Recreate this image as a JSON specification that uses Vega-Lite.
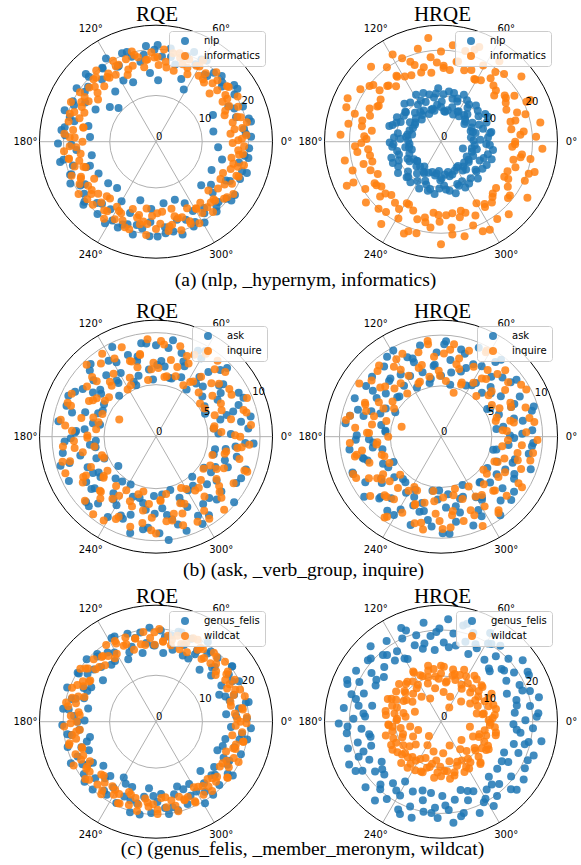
{
"$schema":"https://vega.github.io/schema/vega-lite/v6.json",
"padding":0,
"spacing":0,
"config":{"view":{"stroke":null},"font":"DejaVu Sans",
 "title":{"font":"Liberation Serif","fontSize":21,"fontWeight":"normal","color":"black","frame":"group","anchor":"middle"},
 "legend":{"labelFont":"DejaVu Sans","labelFontSize":10,"labelColor":"black","padding":5,"symbolOffset":6,"labelOffset":14,"rowPadding":5,"strokeColor":"#cccccc","fillColor":"rgba(255,255,255,0.8)","cornerRadius":3,"symbolSize":64,"symbolStrokeWidth":0,"symbolType":"circle"}},
"datasets":{
"one":[{"k":1}],
"ang":[{"deg":0,"lab":"0°"},{"deg":60,"lab":"60°"},{"deg":120,"lab":"120°"},{"deg":180,"lab":"180°"},{"deg":240,"lab":"240°"},{"deg":300,"lab":"300°"}],
"g20":[{"r":0,"lab":"0"},{"r":10,"lab":"10"},{"r":20,"lab":"20"}],
"g10":[{"r":0,"lab":"0"},{"r":5,"lab":"5"},{"r":10,"lab":"10"}],
"a1n":[{"t":3,"r":20.6},{"t":8,"r":19.2},{"t":12,"r":21.0},{"t":17,"r":18.1},{"t":22,"r":20.3},{"t":26,"r":17.4},{"t":31,"r":19.8},{"t":36,"r":20.9},{"t":40,"r":18.6},{"t":45,"r":20.1},{"t":50,"r":19.5},{"t":54,"r":17.9},{"t":58,"r":20.7},{"t":63,"r":18.8},{"t":67,"r":21.1},{"t":72,"r":19.3},{"t":76,"r":17.2},{"t":81,"r":20.4},{"t":86,"r":18.5},{"t":91,"r":19.9},{"t":96,"r":20.8},{"t":101,"r":17.6},{"t":106,"r":19.1},{"t":111,"r":20.5},{"t":116,"r":18.3},{"t":121,"r":21.0},{"t":126,"r":19.6},{"t":131,"r":17.8},{"t":136,"r":20.2},{"t":141,"r":18.9},{"t":146,"r":20.7},{"t":151,"r":17.5},{"t":156,"r":19.4},{"t":161,"r":20.9},{"t":166,"r":18.2},{"t":171,"r":20.0},{"t":176,"r":19.7},{"t":181,"r":21.2},{"t":186,"r":17.3},{"t":191,"r":20.4},{"t":196,"r":18.7},{"t":201,"r":19.9},{"t":206,"r":20.6},{"t":211,"r":17.9},{"t":216,"r":19.2},{"t":221,"r":20.8},{"t":226,"r":18.4},{"t":231,"r":20.1},{"t":236,"r":17.6},{"t":241,"r":19.5},{"t":246,"r":20.3},{"t":251,"r":18.9},{"t":256,"r":20.7},{"t":261,"r":19.0},{"t":266,"r":17.4},{"t":271,"r":20.5},{"t":276,"r":18.6},{"t":281,"r":19.8},{"t":286,"r":20.9},{"t":291,"r":18.1},{"t":296,"r":19.3},{"t":301,"r":20.4},{"t":306,"r":17.7},{"t":311,"r":20.0},{"t":316,"r":18.8},{"t":321,"r":19.6},{"t":326,"r":20.6},{"t":331,"r":17.3},{"t":336,"r":19.9},{"t":341,"r":20.8},{"t":346,"r":18.5},{"t":351,"r":19.4},{"t":356,"r":20.2},{"t":298,"r":17.0},{"t":318,"r":16.5},{"t":62,"r":12.8},{"t":68,"r":14.6},{"t":88,"r":13.3},{"t":95,"r":14.9},{"t":111,"r":13.8},{"t":118,"r":15.0},{"t":129,"r":14.0},{"t":138,"r":10.9},{"t":143,"r":12.5},{"t":152,"r":14.8},{"t":167,"r":15.0},{"t":176,"r":14.3},{"t":192,"r":14.2},{"t":200,"r":15.2},{"t":209,"r":14.2},{"t":221,"r":13.7},{"t":230,"r":13.1},{"t":240,"r":14.9},{"t":255,"r":13.1},{"t":266,"r":14.6},{"t":277,"r":13.4},{"t":288,"r":13.2},{"t":295,"r":14.7},{"t":316,"r":13.6},{"t":322,"r":15.1},{"t":333,"r":13.5},{"t":345,"r":14.8},{"t":355,"r":13.5},{"t":10,"r":12.6},{"t":25,"r":13.6},{"t":5,"r":19.5},{"t":14,"r":20.7},{"t":23,"r":18.4},{"t":33,"r":21.0},{"t":42,"r":19.2},{"t":52,"r":18.0},{"t":61,"r":20.3},{"t":70,"r":19.7},{"t":80,"r":18.6},{"t":89,"r":20.9},{"t":98,"r":19.0},{"t":108,"r":20.4},{"t":117,"r":18.2},{"t":126,"r":19.8},{"t":136,"r":21.1},{"t":145,"r":18.8},{"t":154,"r":20.0},{"t":164,"r":19.4},{"t":173,"r":20.6},{"t":182,"r":18.3},{"t":192,"r":21.2},{"t":201,"r":19.6},{"t":210,"r":18.9},{"t":220,"r":20.2},{"t":229,"r":17.8},{"t":238,"r":20.8},{"t":248,"r":19.3},{"t":257,"r":18.5},{"t":266,"r":20.5},{"t":276,"r":19.9},{"t":285,"r":17.5},{"t":294,"r":20.1},{"t":304,"r":18.7},{"t":313,"r":19.2},{"t":322,"r":20.7},{"t":332,"r":18.1},{"t":341,"r":19.7},{"t":350,"r":20.3},{"t":200,"r":16.0},{"t":250,"r":16.4}],
"a1i":[{"t":1,"r":17.8},{"t":4,"r":19.6},{"t":6,"r":16.2},{"t":9,"r":18.9},{"t":12,"r":20.1},{"t":14,"r":17.1},{"t":17,"r":18.4},{"t":21,"r":15.9},{"t":23,"r":19.3},{"t":26,"r":17.6},{"t":29,"r":20.2},{"t":31,"r":16.8},{"t":34,"r":18.1},{"t":37,"r":19.7},{"t":40,"r":17.3},{"t":42,"r":15.6},{"t":45,"r":18.8},{"t":49,"r":19.9},{"t":51,"r":16.5},{"t":54,"r":18.3},{"t":57,"r":17.0},{"t":60,"r":20.3},{"t":62,"r":18.6},{"t":65,"r":16.1},{"t":68,"r":19.2},{"t":71,"r":17.7},{"t":74,"r":18.9},{"t":76,"r":15.8},{"t":79,"r":19.5},{"t":83,"r":17.4},{"t":85,"r":20.0},{"t":88,"r":16.6},{"t":91,"r":18.2},{"t":93,"r":19.4},{"t":96,"r":17.9},{"t":99,"r":16.3},{"t":102,"r":18.7},{"t":105,"r":20.2},{"t":107,"r":17.2},{"t":110,"r":19.0},{"t":113,"r":15.7},{"t":116,"r":18.5},{"t":118,"r":19.8},{"t":121,"r":16.9},{"t":125,"r":18.0},{"t":127,"r":17.5},{"t":130,"r":20.1},{"t":133,"r":16.4},{"t":135,"r":19.1},{"t":138,"r":17.8},{"t":141,"r":18.6},{"t":144,"r":15.5},{"t":147,"r":19.6},{"t":149,"r":17.0},{"t":152,"r":18.3},{"t":155,"r":20.3},{"t":158,"r":16.7},{"t":160,"r":18.8},{"t":163,"r":17.3},{"t":167,"r":19.4},{"t":169,"r":16.0},{"t":172,"r":18.1},{"t":175,"r":19.9},{"t":177,"r":17.6},{"t":180,"r":15.9},{"t":183,"r":18.7},{"t":186,"r":20.0},{"t":189,"r":16.5},{"t":191,"r":19.2},{"t":194,"r":17.1},{"t":197,"r":18.4},{"t":200,"r":16.2},{"t":202,"r":19.7},{"t":205,"r":17.9},{"t":209,"r":18.9},{"t":211,"r":15.6},{"t":214,"r":20.2},{"t":217,"r":17.4},{"t":219,"r":18.0},{"t":222,"r":16.8},{"t":225,"r":19.3},{"t":228,"r":17.7},{"t":231,"r":15.8},{"t":233,"r":18.6},{"t":236,"r":20.1},{"t":239,"r":16.4},{"t":242,"r":19.0},{"t":244,"r":17.2},{"t":247,"r":18.5},{"t":251,"r":15.4},{"t":253,"r":19.8},{"t":256,"r":16.9},{"t":259,"r":18.2},{"t":261,"r":17.5},{"t":264,"r":20.3},{"t":267,"r":16.1},{"t":270,"r":18.9},{"t":273,"r":17.8},{"t":275,"r":15.2},{"t":278,"r":19.5},{"t":281,"r":18.3},{"t":284,"r":16.6},{"t":286,"r":19.9},{"t":289,"r":17.3},{"t":293,"r":18.7},{"t":295,"r":15.9},{"t":298,"r":20.0},{"t":301,"r":17.0},{"t":303,"r":18.4},{"t":306,"r":16.3},{"t":309,"r":19.6},{"t":312,"r":17.7},{"t":315,"r":18.1},{"t":317,"r":15.5},{"t":320,"r":19.2},{"t":323,"r":16.8},{"t":326,"r":20.2},{"t":328,"r":17.5},{"t":331,"r":18.8},{"t":335,"r":16.0},{"t":337,"r":19.4},{"t":340,"r":17.2},{"t":343,"r":18.5},{"t":345,"r":19.7},{"t":348,"r":16.7},{"t":351,"r":18.2},{"t":354,"r":17.9},{"t":357,"r":19.1},{"t":262,"r":14.6},{"t":283,"r":14.9},{"t":2,"r":18.6},{"t":9,"r":17.2},{"t":16,"r":19.1},{"t":24,"r":16.4},{"t":31,"r":18.0},{"t":38,"r":19.5},{"t":46,"r":17.6},{"t":53,"r":16.9},{"t":60,"r":18.8},{"t":67,"r":17.4},{"t":75,"r":19.8},{"t":82,"r":16.2},{"t":89,"r":18.3},{"t":97,"r":17.8},{"t":104,"r":19.3},{"t":111,"r":16.7},{"t":118,"r":18.5},{"t":126,"r":17.1},{"t":133,"r":19.0},{"t":140,"r":16.5},{"t":148,"r":18.2},{"t":155,"r":17.7},{"t":162,"r":19.6},{"t":169,"r":16.0},{"t":177,"r":18.7},{"t":184,"r":17.3},{"t":191,"r":19.2},{"t":199,"r":16.6},{"t":206,"r":18.1},{"t":213,"r":17.5},{"t":220,"r":19.4},{"t":228,"r":15.9},{"t":235,"r":18.4},{"t":242,"r":17.0},{"t":250,"r":19.7},{"t":257,"r":16.3},{"t":264,"r":17.9},{"t":271,"r":15.5},{"t":279,"r":18.6},{"t":286,"r":17.2},{"t":293,"r":19.3},{"t":301,"r":16.8},{"t":308,"r":18.0},{"t":315,"r":17.6},{"t":322,"r":19.5},{"t":330,"r":16.1},{"t":337,"r":18.9},{"t":344,"r":17.4},{"t":352,"r":19.0},{"t":359,"r":16.6}],
"a2n":[{"t":2,"r":7.1},{"t":8,"r":6.6},{"t":14,"r":7.8},{"t":20,"r":6.9},{"t":25,"r":7.4},{"t":31,"r":8.0},{"t":37,"r":6.4},{"t":43,"r":7.2},{"t":49,"r":7.7},{"t":55,"r":6.8},{"t":61,"r":7.5},{"t":66,"r":6.5},{"t":72,"r":7.9},{"t":78,"r":7.0},{"t":84,"r":6.7},{"t":90,"r":7.6},{"t":96,"r":8.1},{"t":102,"r":6.9},{"t":107,"r":7.3},{"t":113,"r":6.6},{"t":119,"r":7.8},{"t":125,"r":7.1},{"t":131,"r":6.4},{"t":137,"r":7.5},{"t":143,"r":7.0},{"t":148,"r":8.0},{"t":154,"r":6.8},{"t":160,"r":7.3},{"t":166,"r":6.5},{"t":172,"r":7.7},{"t":178,"r":7.2},{"t":184,"r":6.9},{"t":189,"r":7.9},{"t":195,"r":6.6},{"t":201,"r":7.4},{"t":207,"r":8.2},{"t":213,"r":7.0},{"t":219,"r":6.7},{"t":225,"r":7.6},{"t":230,"r":7.1},{"t":236,"r":6.5},{"t":242,"r":7.8},{"t":248,"r":7.3},{"t":254,"r":6.9},{"t":260,"r":7.5},{"t":266,"r":6.4},{"t":271,"r":8.0},{"t":277,"r":7.2},{"t":283,"r":6.8},{"t":289,"r":7.6},{"t":295,"r":7.0},{"t":301,"r":6.6},{"t":307,"r":7.9},{"t":312,"r":7.3},{"t":318,"r":6.8},{"t":324,"r":7.5},{"t":330,"r":6.5},{"t":336,"r":7.7},{"t":342,"r":7.1},{"t":348,"r":6.9},{"t":354,"r":7.4},{"t":5,"r":10.3},{"t":11,"r":11.2},{"t":17,"r":9.6},{"t":23,"r":10.8},{"t":28,"r":11.6},{"t":34,"r":9.9},{"t":40,"r":10.5},{"t":46,"r":11.0},{"t":52,"r":9.4},{"t":58,"r":10.7},{"t":64,"r":11.4},{"t":69,"r":10.1},{"t":75,"r":9.7},{"t":81,"r":11.1},{"t":87,"r":10.4},{"t":93,"r":11.7},{"t":99,"r":9.8},{"t":104,"r":10.6},{"t":110,"r":11.3},{"t":116,"r":10.0},{"t":122,"r":9.5},{"t":128,"r":10.9},{"t":134,"r":11.5},{"t":140,"r":10.2},{"t":145,"r":9.9},{"t":151,"r":11.0},{"t":157,"r":10.6},{"t":163,"r":11.8},{"t":169,"r":9.6},{"t":175,"r":10.3},{"t":181,"r":11.2},{"t":186,"r":10.7},{"t":192,"r":9.8},{"t":198,"r":11.4},{"t":204,"r":10.1},{"t":210,"r":10.8},{"t":216,"r":11.6},{"t":222,"r":9.7},{"t":227,"r":10.5},{"t":233,"r":11.1},{"t":239,"r":10.0},{"t":245,"r":11.3},{"t":251,"r":9.9},{"t":257,"r":10.6},{"t":263,"r":11.5},{"t":268,"r":10.2},{"t":274,"r":9.6},{"t":280,"r":10.9},{"t":286,"r":11.7},{"t":292,"r":10.4},{"t":298,"r":9.8},{"t":304,"r":11.0},{"t":309,"r":10.3},{"t":315,"r":11.4},{"t":321,"r":9.7},{"t":327,"r":10.8},{"t":333,"r":11.2},{"t":339,"r":10.0},{"t":345,"r":10.6},{"t":351,"r":11.5},{"t":357,"r":9.9},{"t":343,"r":5.0},{"t":3,"r":8.6},{"t":10,"r":10.9},{"t":17,"r":7.3},{"t":24,"r":9.1},{"t":32,"r":11.4},{"t":39,"r":6.9},{"t":46,"r":8.3},{"t":53,"r":10.2},{"t":60,"r":7.7},{"t":68,"r":9.5},{"t":75,"r":11.0},{"t":82,"r":6.6},{"t":89,"r":8.8},{"t":96,"r":10.6},{"t":104,"r":7.4},{"t":111,"r":9.3},{"t":118,"r":11.6},{"t":125,"r":7.9},{"t":132,"r":8.5},{"t":140,"r":10.0},{"t":147,"r":6.8},{"t":154,"r":9.8},{"t":161,"r":11.2},{"t":168,"r":7.5},{"t":176,"r":8.9},{"t":183,"r":10.4},{"t":190,"r":7.1},{"t":197,"r":9.6},{"t":204,"r":11.5},{"t":212,"r":8.1},{"t":219,"r":6.7},{"t":226,"r":10.8},{"t":233,"r":8.7},{"t":240,"r":7.6},{"t":248,"r":9.2},{"t":255,"r":11.1},{"t":262,"r":7.0},{"t":269,"r":8.4},{"t":276,"r":10.5},{"t":284,"r":7.8},{"t":291,"r":9.9},{"t":298,"r":11.3},{"t":305,"r":6.5},{"t":312,"r":8.2},{"t":320,"r":10.1},{"t":327,"r":7.2},{"t":334,"r":9.4},{"t":341,"r":11.7},{"t":348,"r":8.0},{"t":356,"r":10.7}],
"a2i":[{"t":0,"r":16.2},{"t":5,"r":17.4},{"t":10,"r":15.6},{"t":16,"r":16.9},{"t":21,"r":17.8},{"t":26,"r":15.9},{"t":31,"r":16.5},{"t":36,"r":17.2},{"t":41,"r":15.4},{"t":47,"r":16.8},{"t":52,"r":17.6},{"t":57,"r":16.0},{"t":62,"r":15.5},{"t":67,"r":17.0},{"t":72,"r":16.4},{"t":78,"r":17.9},{"t":83,"r":15.8},{"t":88,"r":16.6},{"t":93,"r":17.3},{"t":98,"r":15.2},{"t":103,"r":16.7},{"t":109,"r":17.7},{"t":114,"r":15.9},{"t":119,"r":16.3},{"t":124,"r":17.1},{"t":129,"r":15.6},{"t":134,"r":16.9},{"t":140,"r":17.5},{"t":145,"r":16.1},{"t":150,"r":15.7},{"t":155,"r":17.2},{"t":160,"r":16.5},{"t":165,"r":17.8},{"t":171,"r":15.3},{"t":176,"r":16.8},{"t":181,"r":17.4},{"t":186,"r":16.0},{"t":191,"r":15.8},{"t":196,"r":17.6},{"t":202,"r":16.6},{"t":207,"r":15.5},{"t":212,"r":17.1},{"t":217,"r":16.3},{"t":222,"r":17.9},{"t":227,"r":15.9},{"t":233,"r":16.7},{"t":238,"r":17.3},{"t":243,"r":15.4},{"t":248,"r":16.2},{"t":253,"r":17.7},{"t":258,"r":16.9},{"t":264,"r":15.6},{"t":269,"r":17.5},{"t":274,"r":16.1},{"t":279,"r":15.8},{"t":284,"r":17.0},{"t":289,"r":16.4},{"t":295,"r":17.8},{"t":300,"r":15.5},{"t":305,"r":16.6},{"t":310,"r":17.3},{"t":315,"r":16.0},{"t":320,"r":15.7},{"t":326,"r":17.6},{"t":331,"r":16.8},{"t":336,"r":15.9},{"t":341,"r":17.2},{"t":346,"r":16.3},{"t":351,"r":17.9},{"t":356,"r":15.6},{"t":3,"r":20.8},{"t":11,"r":22.1},{"t":18,"r":19.4},{"t":25,"r":21.5},{"t":32,"r":18.9},{"t":39,"r":22.6},{"t":47,"r":20.2},{"t":54,"r":21.7},{"t":61,"r":19.0},{"t":68,"r":22.3},{"t":75,"r":20.5},{"t":83,"r":21.2},{"t":90,"r":19.7},{"t":97,"r":22.8},{"t":104,"r":20.9},{"t":111,"r":18.7},{"t":119,"r":21.8},{"t":126,"r":20.1},{"t":133,"r":22.4},{"t":140,"r":19.3},{"t":147,"r":21.0},{"t":155,"r":22.5},{"t":162,"r":19.8},{"t":169,"r":20.6},{"t":176,"r":22.0},{"t":183,"r":18.8},{"t":191,"r":21.4},{"t":198,"r":20.3},{"t":205,"r":22.7},{"t":212,"r":19.5},{"t":219,"r":21.1},{"t":227,"r":20.0},{"t":234,"r":22.2},{"t":241,"r":19.2},{"t":248,"r":21.6},{"t":255,"r":20.7},{"t":263,"r":18.9},{"t":270,"r":22.4},{"t":277,"r":20.4},{"t":284,"r":21.3},{"t":291,"r":19.6},{"t":299,"r":22.0},{"t":306,"r":20.9},{"t":313,"r":21.7},{"t":320,"r":19.1},{"t":327,"r":22.5},{"t":335,"r":20.2},{"t":342,"r":21.5},{"t":349,"r":19.9},{"t":356,"r":22.2},{"t":7,"r":18.2},{"t":16,"r":15.8},{"t":25,"r":20.6},{"t":34,"r":17.1},{"t":43,"r":16.4},{"t":52,"r":19.3},{"t":61,"r":15.5},{"t":70,"r":21.4},{"t":79,"r":17.8},{"t":88,"r":16.1},{"t":97,"r":18.6},{"t":106,"r":15.7},{"t":115,"r":20.1},{"t":124,"r":17.4},{"t":133,"r":16.8},{"t":142,"r":19.8},{"t":151,"r":15.9},{"t":160,"r":22.0},{"t":169,"r":17.6},{"t":178,"r":16.3},{"t":187,"r":18.4},{"t":196,"r":15.6},{"t":205,"r":21.1},{"t":214,"r":17.0},{"t":223,"r":16.6},{"t":232,"r":19.5},{"t":241,"r":15.4},{"t":250,"r":20.8},{"t":259,"r":17.9},{"t":268,"r":16.0},{"t":277,"r":18.9},{"t":286,"r":15.7},{"t":295,"r":21.6},{"t":304,"r":17.2},{"t":313,"r":16.5},{"t":322,"r":19.1},{"t":331,"r":15.8},{"t":340,"r":20.4},{"t":349,"r":17.7},{"t":358,"r":16.2}],
"b1a":[{"t":2,"r":7.2},{"t":5,"r":8.9},{"t":8,"r":5.6},{"t":12,"r":9.3},{"t":15,"r":6.4},{"t":18,"r":7.8},{"t":21,"r":8.5},{"t":25,"r":5.2},{"t":28,"r":9.0},{"t":31,"r":6.9},{"t":34,"r":7.5},{"t":38,"r":8.2},{"t":41,"r":5.9},{"t":44,"r":9.5},{"t":47,"r":6.6},{"t":51,"r":8.0},{"t":54,"r":7.1},{"t":57,"r":5.4},{"t":60,"r":8.7},{"t":64,"r":9.2},{"t":67,"r":6.2},{"t":70,"r":7.7},{"t":73,"r":8.4},{"t":77,"r":5.8},{"t":80,"r":9.4},{"t":83,"r":6.8},{"t":86,"r":7.3},{"t":90,"r":8.8},{"t":93,"r":5.5},{"t":96,"r":6.5},{"t":99,"r":9.1},{"t":103,"r":7.9},{"t":106,"r":6.1},{"t":109,"r":8.3},{"t":112,"r":5.7},{"t":116,"r":9.6},{"t":119,"r":7.0},{"t":122,"r":8.6},{"t":125,"r":6.3},{"t":129,"r":7.6},{"t":132,"r":5.3},{"t":135,"r":9.0},{"t":138,"r":8.1},{"t":142,"r":6.7},{"t":145,"r":7.4},{"t":148,"r":5.9},{"t":151,"r":8.9},{"t":155,"r":9.3},{"t":158,"r":6.0},{"t":161,"r":7.2},{"t":164,"r":8.4},{"t":168,"r":5.5},{"t":171,"r":9.5},{"t":174,"r":6.9},{"t":177,"r":7.8},{"t":181,"r":8.2},{"t":184,"r":5.8},{"t":187,"r":6.4},{"t":190,"r":9.1},{"t":194,"r":7.5},{"t":197,"r":8.7},{"t":200,"r":6.1},{"t":203,"r":5.4},{"t":207,"r":9.4},{"t":210,"r":7.0},{"t":213,"r":8.0},{"t":216,"r":6.6},{"t":220,"r":7.7},{"t":223,"r":9.2},{"t":226,"r":5.6},{"t":229,"r":8.5},{"t":233,"r":6.8},{"t":236,"r":7.3},{"t":239,"r":9.0},{"t":242,"r":5.2},{"t":246,"r":8.3},{"t":249,"r":6.2},{"t":252,"r":7.9},{"t":255,"r":9.6},{"t":259,"r":6.5},{"t":262,"r":7.1},{"t":265,"r":8.8},{"t":268,"r":5.7},{"t":272,"r":9.3},{"t":275,"r":6.9},{"t":278,"r":7.6},{"t":281,"r":8.1},{"t":285,"r":5.3},{"t":288,"r":9.5},{"t":291,"r":6.3},{"t":294,"r":7.4},{"t":298,"r":8.6},{"t":301,"r":6.0},{"t":304,"r":9.1},{"t":307,"r":5.9},{"t":311,"r":7.8},{"t":314,"r":8.4},{"t":317,"r":6.7},{"t":320,"r":9.8},{"t":324,"r":7.2},{"t":327,"r":5.5},{"t":330,"r":8.9},{"t":333,"r":6.4},{"t":337,"r":7.5},{"t":340,"r":9.2},{"t":343,"r":5.8},{"t":346,"r":8.0},{"t":350,"r":6.8},{"t":353,"r":7.7},{"t":356,"r":9.4},{"t":277,"r":10.0},{"t":218,"r":4.6},{"t":3,"r":6.0},{"t":10,"r":8.3},{"t":17,"r":7.1},{"t":24,"r":9.2},{"t":32,"r":5.5},{"t":39,"r":7.8},{"t":46,"r":8.9},{"t":53,"r":6.4},{"t":60,"r":9.5},{"t":68,"r":7.3},{"t":75,"r":5.8},{"t":82,"r":8.6},{"t":89,"r":6.9},{"t":96,"r":9.0},{"t":104,"r":7.5},{"t":111,"r":5.3},{"t":118,"r":8.1},{"t":125,"r":6.6},{"t":132,"r":9.4},{"t":140,"r":7.0},{"t":147,"r":8.4},{"t":154,"r":5.7},{"t":161,"r":9.1},{"t":168,"r":6.2},{"t":176,"r":7.7},{"t":183,"r":8.8},{"t":190,"r":5.9},{"t":197,"r":9.6},{"t":204,"r":7.2},{"t":212,"r":6.5},{"t":219,"r":8.0},{"t":226,"r":9.3},{"t":233,"r":5.4},{"t":240,"r":7.6},{"t":248,"r":8.5},{"t":255,"r":6.1},{"t":262,"r":9.0},{"t":269,"r":7.4},{"t":276,"r":5.6},{"t":284,"r":8.7},{"t":291,"r":6.8},{"t":298,"r":9.5},{"t":305,"r":7.9},{"t":312,"r":5.2},{"t":320,"r":8.2},{"t":327,"r":6.3},{"t":334,"r":9.1},{"t":341,"r":7.0},{"t":348,"r":5.8},{"t":356,"r":8.6}],
"b1i":[{"t":0,"r":8.1},{"t":4,"r":6.3},{"t":7,"r":9.2},{"t":10,"r":5.7},{"t":13,"r":7.4},{"t":17,"r":8.8},{"t":20,"r":6.0},{"t":23,"r":9.5},{"t":27,"r":7.0},{"t":30,"r":5.4},{"t":33,"r":8.4},{"t":36,"r":6.7},{"t":40,"r":7.9},{"t":43,"r":9.1},{"t":46,"r":5.9},{"t":49,"r":8.6},{"t":53,"r":7.2},{"t":56,"r":6.4},{"t":59,"r":9.3},{"t":62,"r":5.6},{"t":66,"r":7.7},{"t":69,"r":8.3},{"t":72,"r":6.1},{"t":75,"r":9.0},{"t":79,"r":7.5},{"t":82,"r":5.8},{"t":85,"r":8.9},{"t":88,"r":6.6},{"t":92,"r":7.1},{"t":95,"r":9.4},{"t":98,"r":5.5},{"t":101,"r":8.0},{"t":105,"r":6.9},{"t":108,"r":7.6},{"t":111,"r":9.2},{"t":114,"r":6.2},{"t":118,"r":8.5},{"t":121,"r":5.3},{"t":124,"r":7.3},{"t":127,"r":8.8},{"t":131,"r":6.5},{"t":134,"r":9.6},{"t":137,"r":7.8},{"t":140,"r":5.9},{"t":144,"r":8.2},{"t":147,"r":6.8},{"t":150,"r":7.0},{"t":153,"r":9.1},{"t":157,"r":5.6},{"t":160,"r":8.7},{"t":163,"r":6.3},{"t":166,"r":7.4},{"t":170,"r":9.3},{"t":173,"r":5.8},{"t":176,"r":8.1},{"t":179,"r":6.6},{"t":183,"r":7.9},{"t":186,"r":9.0},{"t":189,"r":6.0},{"t":192,"r":7.2},{"t":196,"r":8.6},{"t":199,"r":5.5},{"t":202,"r":9.4},{"t":205,"r":6.9},{"t":209,"r":7.7},{"t":212,"r":8.3},{"t":215,"r":5.7},{"t":218,"r":6.4},{"t":222,"r":9.2},{"t":225,"r":7.5},{"t":228,"r":8.0},{"t":231,"r":6.1},{"t":235,"r":7.3},{"t":238,"r":9.5},{"t":241,"r":5.9},{"t":244,"r":8.8},{"t":248,"r":6.7},{"t":251,"r":7.1},{"t":254,"r":9.0},{"t":257,"r":5.4},{"t":261,"r":8.4},{"t":264,"r":6.5},{"t":267,"r":7.8},{"t":270,"r":9.3},{"t":274,"r":6.2},{"t":277,"r":8.2},{"t":280,"r":5.6},{"t":283,"r":7.6},{"t":287,"r":8.9},{"t":290,"r":6.8},{"t":293,"r":7.0},{"t":296,"r":9.1},{"t":300,"r":5.8},{"t":303,"r":8.5},{"t":306,"r":6.4},{"t":309,"r":7.4},{"t":313,"r":9.6},{"t":316,"r":6.0},{"t":319,"r":8.1},{"t":322,"r":7.7},{"t":326,"r":5.5},{"t":329,"r":8.7},{"t":332,"r":6.6},{"t":335,"r":7.2},{"t":339,"r":9.4},{"t":342,"r":5.7},{"t":345,"r":8.3},{"t":348,"r":6.9},{"t":352,"r":7.9},{"t":355,"r":9.0},{"t":155,"r":3.9},{"t":1,"r":7.6},{"t":8,"r":5.6},{"t":15,"r":9.0},{"t":22,"r":6.8},{"t":29,"r":8.3},{"t":37,"r":5.3},{"t":44,"r":7.4},{"t":51,"r":9.4},{"t":58,"r":6.2},{"t":65,"r":8.7},{"t":73,"r":7.0},{"t":80,"r":5.9},{"t":87,"r":9.2},{"t":94,"r":6.5},{"t":101,"r":8.1},{"t":109,"r":7.7},{"t":116,"r":5.5},{"t":123,"r":9.5},{"t":130,"r":6.9},{"t":137,"r":8.4},{"t":145,"r":6.0},{"t":152,"r":7.3},{"t":159,"r":9.1},{"t":166,"r":5.7},{"t":173,"r":8.8},{"t":181,"r":6.6},{"t":188,"r":7.9},{"t":195,"r":9.3},{"t":202,"r":5.4},{"t":209,"r":8.0},{"t":217,"r":6.3},{"t":224,"r":7.5},{"t":231,"r":9.6},{"t":238,"r":6.7},{"t":245,"r":8.5},{"t":253,"r":5.8},{"t":260,"r":7.2},{"t":267,"r":9.0},{"t":274,"r":6.1},{"t":281,"r":8.2},{"t":289,"r":7.8},{"t":296,"r":5.5},{"t":303,"r":9.4},{"t":310,"r":6.4},{"t":317,"r":8.6},{"t":325,"r":7.1},{"t":332,"r":5.9},{"t":339,"r":9.1},{"t":346,"r":6.8},{"t":353,"r":8.3}],
"b2a":[{"t":1,"r":6.8},{"t":4,"r":9.0},{"t":8,"r":5.5},{"t":11,"r":8.2},{"t":14,"r":7.4},{"t":18,"r":9.6},{"t":21,"r":6.1},{"t":24,"r":7.9},{"t":27,"r":8.7},{"t":31,"r":5.3},{"t":34,"r":7.1},{"t":37,"r":9.3},{"t":41,"r":6.5},{"t":44,"r":8.4},{"t":47,"r":5.9},{"t":50,"r":7.7},{"t":54,"r":9.1},{"t":57,"r":6.3},{"t":60,"r":8.0},{"t":64,"r":5.6},{"t":67,"r":9.5},{"t":70,"r":7.2},{"t":73,"r":6.7},{"t":77,"r":8.8},{"t":80,"r":5.2},{"t":83,"r":7.6},{"t":87,"r":9.4},{"t":90,"r":6.0},{"t":93,"r":8.3},{"t":96,"r":7.0},{"t":100,"r":5.8},{"t":103,"r":9.2},{"t":106,"r":6.6},{"t":110,"r":7.8},{"t":113,"r":8.5},{"t":116,"r":5.4},{"t":119,"r":9.7},{"t":123,"r":7.3},{"t":126,"r":6.2},{"t":129,"r":8.9},{"t":133,"r":7.5},{"t":136,"r":5.7},{"t":139,"r":9.0},{"t":142,"r":6.9},{"t":146,"r":8.1},{"t":149,"r":7.4},{"t":152,"r":5.1},{"t":156,"r":9.3},{"t":159,"r":6.4},{"t":162,"r":8.6},{"t":165,"r":7.9},{"t":169,"r":6.0},{"t":172,"r":9.5},{"t":175,"r":5.5},{"t":179,"r":8.3},{"t":182,"r":7.1},{"t":185,"r":6.7},{"t":188,"r":9.1},{"t":192,"r":5.9},{"t":195,"r":8.0},{"t":198,"r":7.6},{"t":202,"r":9.4},{"t":205,"r":6.3},{"t":208,"r":5.3},{"t":211,"r":8.7},{"t":215,"r":7.2},{"t":218,"r":9.6},{"t":221,"r":6.1},{"t":225,"r":8.4},{"t":228,"r":5.6},{"t":231,"r":7.8},{"t":234,"r":9.0},{"t":238,"r":6.5},{"t":241,"r":8.2},{"t":244,"r":5.8},{"t":248,"r":7.3},{"t":251,"r":9.2},{"t":254,"r":6.8},{"t":257,"r":7.5},{"t":261,"r":5.4},{"t":264,"r":8.9},{"t":267,"r":6.2},{"t":271,"r":9.5},{"t":274,"r":7.0},{"t":277,"r":5.7},{"t":280,"r":8.5},{"t":284,"r":7.7},{"t":287,"r":6.4},{"t":290,"r":9.3},{"t":294,"r":5.2},{"t":297,"r":8.1},{"t":300,"r":6.9},{"t":303,"r":7.4},{"t":307,"r":9.7},{"t":310,"r":5.9},{"t":313,"r":8.6},{"t":317,"r":6.6},{"t":320,"r":7.9},{"t":323,"r":9.0},{"t":326,"r":5.5},{"t":330,"r":8.3},{"t":333,"r":7.1},{"t":336,"r":6.0},{"t":340,"r":9.4},{"t":343,"r":7.6},{"t":346,"r":5.3},{"t":349,"r":8.8},{"t":353,"r":6.7},{"t":356,"r":9.1},{"t":359,"r":7.2},{"t":2,"r":8.0},{"t":9,"r":6.2},{"t":16,"r":9.3},{"t":23,"r":7.5},{"t":30,"r":5.6},{"t":38,"r":8.7},{"t":45,"r":6.9},{"t":52,"r":9.6},{"t":59,"r":5.9},{"t":66,"r":7.8},{"t":74,"r":8.5},{"t":81,"r":6.4},{"t":88,"r":9.1},{"t":95,"r":7.1},{"t":102,"r":5.4},{"t":110,"r":8.2},{"t":117,"r":6.7},{"t":124,"r":9.5},{"t":131,"r":7.6},{"t":138,"r":5.8},{"t":146,"r":8.9},{"t":153,"r":6.1},{"t":160,"r":7.3},{"t":167,"r":9.2},{"t":174,"r":5.5},{"t":182,"r":8.4},{"t":189,"r":6.8},{"t":196,"r":7.9},{"t":203,"r":9.4},{"t":210,"r":6.0},{"t":218,"r":7.4},{"t":225,"r":8.6},{"t":232,"r":5.7},{"t":239,"r":9.0},{"t":246,"r":6.5},{"t":254,"r":7.7},{"t":261,"r":8.3},{"t":268,"r":5.3},{"t":275,"r":9.6},{"t":282,"r":7.0},{"t":290,"r":6.3},{"t":297,"r":8.8},{"t":304,"r":7.2},{"t":311,"r":5.9},{"t":318,"r":9.3},{"t":326,"r":6.6},{"t":333,"r":8.1},{"t":340,"r":7.5},{"t":347,"r":5.6},{"t":354,"r":9.0}],
"b2i":[{"t":3,"r":8.4},{"t":6,"r":6.1},{"t":9,"r":9.3},{"t":13,"r":7.0},{"t":16,"r":5.6},{"t":19,"r":8.8},{"t":23,"r":7.5},{"t":26,"r":6.4},{"t":29,"r":9.6},{"t":32,"r":5.9},{"t":36,"r":7.8},{"t":39,"r":8.5},{"t":42,"r":6.7},{"t":46,"r":9.1},{"t":49,"r":5.3},{"t":52,"r":7.2},{"t":55,"r":8.0},{"t":59,"r":6.2},{"t":62,"r":9.4},{"t":65,"r":7.6},{"t":69,"r":5.7},{"t":72,"r":8.9},{"t":75,"r":6.9},{"t":78,"r":7.3},{"t":82,"r":9.2},{"t":85,"r":5.5},{"t":88,"r":8.2},{"t":92,"r":6.5},{"t":95,"r":7.9},{"t":98,"r":9.5},{"t":101,"r":6.0},{"t":105,"r":8.6},{"t":108,"r":7.1},{"t":111,"r":5.8},{"t":115,"r":9.0},{"t":118,"r":6.8},{"t":121,"r":7.7},{"t":124,"r":8.3},{"t":128,"r":5.4},{"t":131,"r":9.3},{"t":134,"r":6.6},{"t":138,"r":7.4},{"t":141,"r":8.8},{"t":144,"r":5.9},{"t":147,"r":9.6},{"t":151,"r":7.0},{"t":154,"r":6.3},{"t":157,"r":8.1},{"t":161,"r":7.8},{"t":164,"r":5.6},{"t":167,"r":9.2},{"t":170,"r":6.9},{"t":174,"r":8.5},{"t":177,"r":7.3},{"t":180,"r":5.2},{"t":184,"r":9.0},{"t":187,"r":6.4},{"t":190,"r":7.9},{"t":193,"r":8.7},{"t":197,"r":6.1},{"t":200,"r":7.5},{"t":203,"r":9.4},{"t":207,"r":5.7},{"t":210,"r":8.2},{"t":213,"r":6.8},{"t":216,"r":7.2},{"t":220,"r":9.1},{"t":223,"r":5.5},{"t":226,"r":8.0},{"t":230,"r":6.6},{"t":233,"r":7.7},{"t":236,"r":9.5},{"t":239,"r":6.2},{"t":243,"r":8.4},{"t":246,"r":5.8},{"t":249,"r":7.1},{"t":253,"r":8.9},{"t":256,"r":6.7},{"t":259,"r":9.3},{"t":262,"r":5.4},{"t":266,"r":7.6},{"t":269,"r":8.3},{"t":272,"r":6.0},{"t":276,"r":9.0},{"t":279,"r":7.4},{"t":282,"r":5.9},{"t":285,"r":8.6},{"t":289,"r":6.5},{"t":292,"r":7.8},{"t":295,"r":9.7},{"t":299,"r":5.6},{"t":302,"r":8.1},{"t":305,"r":7.0},{"t":308,"r":9.2},{"t":312,"r":6.3},{"t":315,"r":7.5},{"t":318,"r":8.7},{"t":322,"r":5.3},{"t":325,"r":6.9},{"t":328,"r":9.4},{"t":331,"r":7.2},{"t":335,"r":5.8},{"t":338,"r":8.5},{"t":341,"r":6.6},{"t":345,"r":9.1},{"t":348,"r":7.7},{"t":351,"r":6.1},{"t":354,"r":8.0},{"t":358,"r":9.5},{"t":11,"r":7.3},{"t":74,"r":4.5},{"t":166,"r":4.0},{"t":5,"r":6.5},{"t":12,"r":8.9},{"t":19,"r":5.8},{"t":26,"r":7.6},{"t":33,"r":9.4},{"t":41,"r":6.2},{"t":48,"r":8.3},{"t":55,"r":7.0},{"t":62,"r":9.6},{"t":69,"r":5.5},{"t":77,"r":7.9},{"t":84,"r":8.6},{"t":91,"r":6.0},{"t":98,"r":9.2},{"t":105,"r":7.3},{"t":113,"r":5.7},{"t":120,"r":8.8},{"t":127,"r":6.6},{"t":134,"r":9.0},{"t":141,"r":7.7},{"t":149,"r":5.4},{"t":156,"r":8.2},{"t":163,"r":6.9},{"t":170,"r":9.5},{"t":177,"r":7.1},{"t":185,"r":6.3},{"t":192,"r":8.5},{"t":199,"r":5.9},{"t":206,"r":9.3},{"t":213,"r":7.5},{"t":221,"r":6.7},{"t":228,"r":8.0},{"t":235,"r":9.7},{"t":242,"r":5.6},{"t":249,"r":7.2},{"t":257,"r":8.7},{"t":264,"r":6.4},{"t":271,"r":9.1},{"t":278,"r":7.8},{"t":285,"r":5.3},{"t":293,"r":8.4},{"t":300,"r":6.8},{"t":307,"r":9.4},{"t":314,"r":7.4},{"t":321,"r":5.8},{"t":329,"r":8.9},{"t":336,"r":6.1},{"t":343,"r":7.9},{"t":350,"r":9.2},{"t":357,"r":6.6}],
"c1g":[{"t":2,"r":19.6},{"t":6,"r":15.2},{"t":9,"r":18.1},{"t":12,"r":20.4},{"t":16,"r":16.5},{"t":19,"r":17.8},{"t":23,"r":14.8},{"t":26,"r":19.9},{"t":29,"r":16.1},{"t":33,"r":18.7},{"t":36,"r":20.2},{"t":40,"r":15.5},{"t":43,"r":17.3},{"t":46,"r":19.1},{"t":50,"r":14.6},{"t":53,"r":18.4},{"t":57,"r":20.5},{"t":60,"r":16.8},{"t":63,"r":15.3},{"t":67,"r":19.4},{"t":70,"r":17.6},{"t":74,"r":20.0},{"t":77,"r":15.9},{"t":80,"r":18.9},{"t":84,"r":14.9},{"t":87,"r":19.7},{"t":91,"r":16.4},{"t":94,"r":20.3},{"t":97,"r":17.1},{"t":101,"r":15.1},{"t":104,"r":18.6},{"t":108,"r":19.9},{"t":111,"r":16.0},{"t":114,"r":14.7},{"t":118,"r":20.4},{"t":121,"r":17.4},{"t":125,"r":18.2},{"t":128,"r":15.6},{"t":131,"r":19.3},{"t":135,"r":16.7},{"t":138,"r":20.1},{"t":142,"r":14.5},{"t":145,"r":18.0},{"t":148,"r":19.6},{"t":152,"r":15.8},{"t":155,"r":17.2},{"t":159,"r":20.5},{"t":162,"r":16.3},{"t":165,"r":18.8},{"t":169,"r":14.9},{"t":172,"r":19.0},{"t":176,"r":17.7},{"t":179,"r":15.4},{"t":182,"r":20.2},{"t":186,"r":16.6},{"t":189,"r":18.5},{"t":193,"r":14.6},{"t":196,"r":19.8},{"t":199,"r":17.0},{"t":203,"r":15.7},{"t":206,"r":20.4},{"t":210,"r":18.3},{"t":213,"r":16.2},{"t":216,"r":19.2},{"t":220,"r":14.8},{"t":223,"r":17.9},{"t":227,"r":20.0},{"t":230,"r":15.3},{"t":233,"r":18.6},{"t":237,"r":16.9},{"t":240,"r":13.9},{"t":244,"r":19.5},{"t":247,"r":17.5},{"t":250,"r":15.0},{"t":254,"r":20.3},{"t":257,"r":18.1},{"t":261,"r":16.4},{"t":264,"r":14.4},{"t":267,"r":19.7},{"t":271,"r":17.3},{"t":274,"r":15.6},{"t":278,"r":20.1},{"t":281,"r":18.8},{"t":284,"r":16.1},{"t":288,"r":14.7},{"t":291,"r":19.0},{"t":295,"r":17.6},{"t":298,"r":15.2},{"t":301,"r":20.5},{"t":305,"r":18.4},{"t":308,"r":16.8},{"t":312,"r":14.3},{"t":315,"r":19.3},{"t":318,"r":17.1},{"t":322,"r":15.9},{"t":325,"r":20.2},{"t":329,"r":18.0},{"t":332,"r":16.5},{"t":335,"r":14.6},{"t":339,"r":19.6},{"t":342,"r":17.8},{"t":346,"r":15.4},{"t":349,"r":20.0},{"t":352,"r":18.7},{"t":356,"r":16.2},{"t":4,"r":17.3},{"t":12,"r":19.8},{"t":20,"r":15.9},{"t":28,"r":18.6},{"t":36,"r":20.3},{"t":44,"r":16.8},{"t":52,"r":19.2},{"t":60,"r":17.7},{"t":68,"r":15.4},{"t":76,"r":20.0},{"t":84,"r":18.3},{"t":92,"r":16.5},{"t":100,"r":19.5},{"t":108,"r":17.0},{"t":116,"r":20.4},{"t":124,"r":15.8},{"t":132,"r":18.9},{"t":140,"r":17.5},{"t":148,"r":19.9},{"t":156,"r":16.2},{"t":164,"r":18.0},{"t":172,"r":20.2},{"t":180,"r":16.9},{"t":188,"r":19.3},{"t":196,"r":15.5},{"t":204,"r":18.5},{"t":212,"r":17.2},{"t":220,"r":20.1},{"t":228,"r":16.4},{"t":236,"r":19.0},{"t":244,"r":14.9},{"t":252,"r":17.8},{"t":260,"r":20.3},{"t":268,"r":16.0},{"t":276,"r":18.7},{"t":284,"r":19.6},{"t":292,"r":15.7},{"t":300,"r":17.4},{"t":308,"r":20.0},{"t":316,"r":16.6},{"t":324,"r":19.1},{"t":332,"r":17.9},{"t":340,"r":15.3},{"t":348,"r":18.4},{"t":356,"r":20.5}],
"c1w":[{"t":0,"r":18.2},{"t":3,"r":19.6},{"t":6,"r":17.1},{"t":9,"r":18.8},{"t":12,"r":16.5},{"t":16,"r":19.9},{"t":19,"r":17.7},{"t":22,"r":18.4},{"t":25,"r":16.9},{"t":28,"r":19.2},{"t":31,"r":17.4},{"t":35,"r":18.9},{"t":38,"r":16.3},{"t":41,"r":19.7},{"t":44,"r":18.0},{"t":47,"r":17.2},{"t":50,"r":19.4},{"t":54,"r":16.7},{"t":57,"r":18.6},{"t":60,"r":17.9},{"t":63,"r":19.8},{"t":66,"r":16.4},{"t":69,"r":18.3},{"t":72,"r":17.6},{"t":76,"r":19.1},{"t":79,"r":16.8},{"t":82,"r":18.7},{"t":85,"r":17.3},{"t":88,"r":20.0},{"t":91,"r":16.6},{"t":94,"r":18.1},{"t":98,"r":19.5},{"t":101,"r":17.0},{"t":104,"r":18.5},{"t":107,"r":16.2},{"t":110,"r":19.3},{"t":113,"r":17.8},{"t":117,"r":18.9},{"t":120,"r":16.9},{"t":123,"r":19.7},{"t":126,"r":17.5},{"t":129,"r":18.2},{"t":132,"r":16.4},{"t":135,"r":19.0},{"t":139,"r":17.2},{"t":142,"r":18.6},{"t":145,"r":19.9},{"t":148,"r":16.7},{"t":151,"r":18.0},{"t":154,"r":17.4},{"t":158,"r":19.5},{"t":161,"r":16.3},{"t":164,"r":18.8},{"t":167,"r":17.7},{"t":170,"r":19.2},{"t":173,"r":16.8},{"t":176,"r":18.4},{"t":180,"r":17.1},{"t":183,"r":19.8},{"t":186,"r":16.5},{"t":189,"r":18.3},{"t":192,"r":17.6},{"t":195,"r":19.4},{"t":199,"r":16.9},{"t":202,"r":18.7},{"t":205,"r":17.3},{"t":208,"r":20.1},{"t":211,"r":16.6},{"t":214,"r":18.1},{"t":217,"r":17.9},{"t":221,"r":19.1},{"t":224,"r":16.4},{"t":227,"r":18.5},{"t":230,"r":17.2},{"t":233,"r":19.6},{"t":236,"r":16.8},{"t":240,"r":18.2},{"t":243,"r":17.5},{"t":246,"r":19.3},{"t":249,"r":16.2},{"t":252,"r":18.9},{"t":255,"r":17.0},{"t":258,"r":19.7},{"t":262,"r":16.7},{"t":265,"r":18.4},{"t":268,"r":17.8},{"t":271,"r":19.0},{"t":274,"r":16.5},{"t":277,"r":18.6},{"t":281,"r":17.3},{"t":284,"r":19.9},{"t":287,"r":16.9},{"t":290,"r":18.0},{"t":293,"r":17.6},{"t":296,"r":19.4},{"t":300,"r":16.3},{"t":303,"r":18.8},{"t":306,"r":17.1},{"t":309,"r":19.2},{"t":312,"r":16.6},{"t":315,"r":18.3},{"t":318,"r":17.7},{"t":322,"r":19.6},{"t":325,"r":16.8},{"t":328,"r":18.5},{"t":331,"r":17.4},{"t":334,"r":19.8},{"t":337,"r":16.4},{"t":341,"r":18.1},{"t":344,"r":17.9},{"t":347,"r":19.3},{"t":350,"r":16.7},{"t":353,"r":18.7},{"t":357,"r":17.2},{"t":359,"r":19.5},{"t":2,"r":17.5},{"t":8,"r":18.9},{"t":15,"r":16.6},{"t":21,"r":19.4},{"t":27,"r":17.8},{"t":34,"r":18.3},{"t":40,"r":16.9},{"t":47,"r":19.1},{"t":53,"r":17.2},{"t":59,"r":18.6},{"t":66,"r":19.7},{"t":72,"r":16.4},{"t":79,"r":18.0},{"t":85,"r":17.4},{"t":91,"r":19.3},{"t":98,"r":16.7},{"t":104,"r":18.5},{"t":111,"r":17.9},{"t":117,"r":19.5},{"t":123,"r":16.3},{"t":130,"r":18.2},{"t":136,"r":17.0},{"t":143,"r":19.0},{"t":149,"r":16.8},{"t":155,"r":18.7},{"t":162,"r":17.6},{"t":168,"r":19.8},{"t":175,"r":16.5},{"t":181,"r":18.4},{"t":187,"r":17.3},{"t":194,"r":19.2},{"t":200,"r":16.9},{"t":207,"r":18.1},{"t":213,"r":17.7},{"t":219,"r":19.6},{"t":226,"r":16.2},{"t":232,"r":18.8},{"t":239,"r":17.1},{"t":245,"r":19.4},{"t":251,"r":16.6},{"t":258,"r":18.3},{"t":264,"r":17.5},{"t":271,"r":19.9},{"t":277,"r":16.4},{"t":283,"r":18.6},{"t":290,"r":17.8},{"t":296,"r":19.1},{"t":303,"r":16.7},{"t":309,"r":18.0},{"t":315,"r":17.2},{"t":322,"r":19.5},{"t":328,"r":16.9},{"t":335,"r":18.5},{"t":341,"r":17.6},{"t":347,"r":19.3}],
"c2g":[{"t":1,"r":18.4},{"t":5,"r":21.3},{"t":7,"r":16.2},{"t":10,"r":19.7},{"t":14,"r":22.0},{"t":16,"r":17.1},{"t":19,"r":20.5},{"t":23,"r":15.6},{"t":25,"r":18.9},{"t":28,"r":21.7},{"t":32,"r":16.8},{"t":34,"r":19.2},{"t":37,"r":22.3},{"t":41,"r":17.5},{"t":43,"r":20.1},{"t":46,"r":15.3},{"t":50,"r":18.6},{"t":52,"r":21.0},{"t":55,"r":16.5},{"t":59,"r":19.9},{"t":61,"r":22.1},{"t":64,"r":17.8},{"t":68,"r":15.9},{"t":70,"r":20.6},{"t":73,"r":18.2},{"t":77,"r":21.5},{"t":79,"r":16.9},{"t":82,"r":19.4},{"t":86,"r":22.4},{"t":88,"r":17.3},{"t":91,"r":20.3},{"t":95,"r":15.7},{"t":97,"r":18.8},{"t":100,"r":21.9},{"t":104,"r":16.4},{"t":106,"r":19.6},{"t":109,"r":17.6},{"t":113,"r":22.2},{"t":115,"r":20.0},{"t":118,"r":15.5},{"t":122,"r":18.1},{"t":124,"r":21.2},{"t":127,"r":16.7},{"t":131,"r":19.3},{"t":133,"r":22.5},{"t":136,"r":17.2},{"t":140,"r":20.8},{"t":142,"r":15.8},{"t":145,"r":18.5},{"t":149,"r":21.6},{"t":151,"r":16.3},{"t":154,"r":19.8},{"t":158,"r":22.0},{"t":160,"r":17.9},{"t":163,"r":20.4},{"t":167,"r":15.4},{"t":169,"r":18.3},{"t":172,"r":21.4},{"t":176,"r":16.6},{"t":178,"r":19.1},{"t":181,"r":22.3},{"t":185,"r":17.4},{"t":187,"r":20.7},{"t":190,"r":15.9},{"t":194,"r":18.7},{"t":196,"r":21.1},{"t":199,"r":16.1},{"t":203,"r":19.5},{"t":205,"r":22.1},{"t":208,"r":17.7},{"t":212,"r":20.2},{"t":214,"r":15.6},{"t":217,"r":18.0},{"t":221,"r":21.8},{"t":223,"r":16.9},{"t":226,"r":19.0},{"t":230,"r":22.4},{"t":232,"r":17.0},{"t":235,"r":20.6},{"t":239,"r":15.2},{"t":241,"r":18.4},{"t":244,"r":21.3},{"t":248,"r":16.4},{"t":250,"r":19.7},{"t":253,"r":21.9},{"t":257,"r":17.6},{"t":259,"r":20.0},{"t":262,"r":15.7},{"t":266,"r":18.8},{"t":268,"r":21.0},{"t":271,"r":16.2},{"t":275,"r":19.3},{"t":277,"r":22.2},{"t":280,"r":17.3},{"t":284,"r":20.5},{"t":286,"r":15.5},{"t":289,"r":18.1},{"t":293,"r":21.6},{"t":295,"r":16.7},{"t":298,"r":19.9},{"t":302,"r":21.7},{"t":304,"r":17.8},{"t":307,"r":20.3},{"t":311,"r":15.9},{"t":313,"r":18.6},{"t":316,"r":21.2},{"t":320,"r":16.0},{"t":322,"r":19.4},{"t":325,"r":22.0},{"t":329,"r":17.1},{"t":331,"r":20.9},{"t":334,"r":15.3},{"t":338,"r":18.2},{"t":340,"r":21.5},{"t":343,"r":16.6},{"t":347,"r":19.6},{"t":349,"r":22.3},{"t":352,"r":17.5},{"t":356,"r":20.1},{"t":358,"r":15.8},{"t":3,"r":20.9},{"t":12,"r":16.9},{"t":21,"r":19.0},{"t":30,"r":21.8},{"t":39,"r":17.7},{"t":48,"r":15.6},{"t":57,"r":20.2},{"t":66,"r":18.5},{"t":75,"r":22.1},{"t":84,"r":16.3},{"t":93,"r":19.6},{"t":102,"r":17.4},{"t":111,"r":21.3},{"t":120,"r":15.9},{"t":129,"r":18.7},{"t":138,"r":20.6},{"t":147,"r":16.8},{"t":156,"r":22.4},{"t":165,"r":19.2},{"t":174,"r":17.0},{"t":183,"r":20.4},{"t":192,"r":15.7},{"t":201,"r":18.1},{"t":210,"r":21.5},{"t":219,"r":16.5},{"t":228,"r":19.8},{"t":237,"r":17.9},{"t":246,"r":22.0},{"t":255,"r":15.5},{"t":264,"r":20.0},{"t":273,"r":18.3},{"t":282,"r":21.1},{"t":291,"r":16.2},{"t":300,"r":19.4},{"t":309,"r":17.6},{"t":318,"r":22.2},{"t":327,"r":15.8},{"t":336,"r":20.7},{"t":345,"r":18.9},{"t":354,"r":16.6}],
"c2w":[{"t":2,"r":10.4},{"t":7,"r":11.8},{"t":10,"r":9.2},{"t":13,"r":12.3},{"t":18,"r":10.9},{"t":23,"r":8.7},{"t":26,"r":11.5},{"t":29,"r":12.6},{"t":34,"r":9.8},{"t":39,"r":10.6},{"t":42,"r":11.9},{"t":45,"r":9.0},{"t":50,"r":12.1},{"t":55,"r":10.2},{"t":58,"r":8.5},{"t":61,"r":11.3},{"t":66,"r":12.4},{"t":71,"r":9.6},{"t":74,"r":10.8},{"t":77,"r":11.7},{"t":82,"r":8.9},{"t":87,"r":12.0},{"t":90,"r":10.5},{"t":93,"r":9.4},{"t":98,"r":11.6},{"t":103,"r":12.5},{"t":106,"r":10.1},{"t":109,"r":8.8},{"t":114,"r":11.1},{"t":119,"r":12.2},{"t":122,"r":9.5},{"t":125,"r":10.7},{"t":130,"r":11.4},{"t":135,"r":8.6},{"t":138,"r":12.3},{"t":141,"r":10.0},{"t":146,"r":11.8},{"t":151,"r":9.3},{"t":154,"r":10.9},{"t":157,"r":12.6},{"t":162,"r":11.2},{"t":167,"r":8.4},{"t":170,"r":10.3},{"t":173,"r":12.1},{"t":178,"r":9.7},{"t":183,"r":11.5},{"t":186,"r":10.6},{"t":189,"r":8.9},{"t":194,"r":12.4},{"t":199,"r":11.0},{"t":202,"r":9.1},{"t":205,"r":10.8},{"t":210,"r":12.2},{"t":215,"r":11.6},{"t":218,"r":8.7},{"t":221,"r":10.4},{"t":226,"r":12.5},{"t":231,"r":9.9},{"t":234,"r":11.3},{"t":237,"r":10.1},{"t":242,"r":12.0},{"t":247,"r":8.6},{"t":250,"r":11.7},{"t":253,"r":10.5},{"t":258,"r":9.4},{"t":263,"r":12.3},{"t":266,"r":11.1},{"t":269,"r":9.8},{"t":274,"r":10.7},{"t":279,"r":12.6},{"t":282,"r":8.8},{"t":285,"r":11.4},{"t":290,"r":10.2},{"t":295,"r":12.1},{"t":298,"r":9.6},{"t":301,"r":11.9},{"t":306,"r":10.9},{"t":311,"r":8.5},{"t":314,"r":12.4},{"t":317,"r":11.2},{"t":322,"r":9.3},{"t":327,"r":10.6},{"t":330,"r":12.0},{"t":333,"r":11.5},{"t":338,"r":8.9},{"t":343,"r":10.3},{"t":346,"r":12.3},{"t":349,"r":9.7},{"t":354,"r":11.8},{"t":359,"r":10.8},{"t":13,"r":8.0},{"t":32,"r":7.5},{"t":45,"r":6.2},{"t":70,"r":5.8},{"t":85,"r":6.5},{"t":100,"r":7.4},{"t":115,"r":5.6},{"t":128,"r":6.9},{"t":145,"r":7.6},{"t":159,"r":6.1},{"t":172,"r":7.8},{"t":189,"r":6.8},{"t":200,"r":5.3},{"t":208,"r":6.9},{"t":222,"r":7.4},{"t":240,"r":5.9},{"t":256,"r":6.7},{"t":274,"r":6.9},{"t":290,"r":5.5},{"t":305,"r":7.3},{"t":318,"r":6.0},{"t":335,"r":7.7},{"t":350,"r":6.4},{"t":230,"r":4.1},{"t":60,"r":3.6},{"t":4,"r":11.3},{"t":11,"r":9.5},{"t":18,"r":12.0},{"t":25,"r":10.5},{"t":32,"r":8.8},{"t":40,"r":11.8},{"t":47,"r":10.0},{"t":54,"r":12.4},{"t":61,"r":9.2},{"t":68,"r":11.0},{"t":76,"r":10.3},{"t":83,"r":8.6},{"t":90,"r":12.2},{"t":97,"r":9.9},{"t":104,"r":11.5},{"t":112,"r":10.7},{"t":119,"r":12.5},{"t":126,"r":9.0},{"t":133,"r":11.2},{"t":140,"r":10.4},{"t":148,"r":8.9},{"t":155,"r":11.9},{"t":162,"r":10.1},{"t":169,"r":12.3},{"t":176,"r":9.6},{"t":184,"r":11.4},{"t":191,"r":10.8},{"t":198,"r":8.7},{"t":205,"r":12.0},{"t":212,"r":9.7},{"t":220,"r":11.1},{"t":227,"r":10.6},{"t":234,"r":12.4},{"t":241,"r":9.3},{"t":248,"r":11.7},{"t":256,"r":10.2},{"t":263,"r":8.5},{"t":270,"r":11.9},{"t":277,"r":10.9},{"t":284,"r":12.1},{"t":292,"r":9.4},{"t":299,"r":11.3},{"t":306,"r":10.0},{"t":313,"r":12.6},{"t":320,"r":9.8},{"t":328,"r":11.6},{"t":335,"r":10.4},{"t":342,"r":8.8},{"t":349,"r":12.2},{"t":356,"r":10.7}]
},
"resolve":{"scale":{"x":"independent","y":"independent","color":"independent","theta":"independent","radius":"independent","size":"independent"}},
"vconcat":[
{"hconcat":[
 {"width":290,"height":290,"title":{"text":"RQE","offset":-24.5,"dx":12},
  "layer":[
   {"data":{"name":"g20"},"transform":[{"filter":"datum.r>0"}],"mark":{"type":"point","shape":"circle","filled":false,"color":"#b0b0b0","strokeWidth":1,"opacity":1},"encoding":{"x":{"datum":0,"type":"quantitative","scale":{"domain":[-33.74,28.99],"nice":false,"zero":false},"axis":null},"y":{"datum":0,"type":"quantitative","scale":{"domain":[-32.08,30.65],"nice":false,"zero":false},"axis":null},"size":{"field":"r","type":"quantitative","scale":{"type":"pow","exponent":2,"domain":[0,25.2],"range":[0,54289],"zero":true},"legend":null}}},
   {"data":{"name":"ang"},"transform":[{"calculate":"25.2*cos(datum.deg*PI/180)","as":"ex"},{"calculate":"25.2*sin(datum.deg*PI/180)","as":"ey"}],"mark":{"type":"rule","color":"#b0b0b0","strokeWidth":1},"encoding":{"x":{"field":"ex","type":"quantitative","axis":null},"y":{"field":"ey","type":"quantitative","axis":null},"x2":{"datum":0},"y2":{"datum":0}}},
   {"data":{"name":"a1n"},"transform":[{"calculate":"datum.r*cos(datum.t*PI/180)","as":"x"},{"calculate":"datum.r*sin(datum.t*PI/180)","as":"y"}],"mark":{"type":"point","filled":true,"size":64,"opacity":0.85},"encoding":{"x":{"field":"x","type":"quantitative","axis":null},"y":{"field":"y","type":"quantitative","axis":null},"color":{"datum":"nlp","type":"nominal","scale":{"domain":["nlp","informatics"],"range":["#1f77b4","#ff7f0e"]},"legend":{"orient":"none","legendX":169,"legendY":31,"title":null,"zindex":1}}}},
   {"data":{"name":"a1i"},"transform":[{"calculate":"datum.r*cos(datum.t*PI/180)","as":"x"},{"calculate":"datum.r*sin(datum.t*PI/180)","as":"y"}],"mark":{"type":"point","filled":true,"size":64,"opacity":0.85},"encoding":{"x":{"field":"x","type":"quantitative","axis":null},"y":{"field":"y","type":"quantitative","axis":null},"color":{"datum":"informatics","type":"nominal"}}},
   {"data":{"name":"one"},"mark":{"type":"point","shape":"circle","filled":false,"color":"black","strokeWidth":1,"opacity":1},"encoding":{"x":{"datum":0,"type":"quantitative","axis":null},"y":{"datum":0,"type":"quantitative","axis":null},"size":{"datum":25.2,"type":"quantitative","legend":null}}},
   {"data":{"name":"ang"},"mark":{"type":"text","radiusOffset":14,"fontSize":10,"color":"black"},"encoding":{"x":{"datum":0,"type":"quantitative","axis":null},"y":{"datum":0,"type":"quantitative","axis":null},"theta":{"field":"deg","type":"quantitative","scale":{"domain":[0,360],"range":[1.5708,-4.7124]}},"radius":{"datum":25.2,"type":"quantitative","scale":{"type":"linear","domain":[0,25.2],"range":[0,116.5],"zero":true}},"text":{"field":"lab"}}},
   {"data":{"name":"g20"},"mark":{"type":"text","align":"left","baseline":"bottom","fontSize":10,"color":"black"},"encoding":{"x":{"datum":0,"type":"quantitative","axis":null},"y":{"datum":0,"type":"quantitative","axis":null},"theta":{"datum":22.5,"type":"quantitative"},"radius":{"field":"r","type":"quantitative"},"text":{"field":"lab"}}}
  ]},
 {"width":291,"height":290,"title":{"text":"HRQE","offset":-24.5,"dx":7},
  "layer":[
   {"data":{"name":"g20"},"transform":[{"filter":"datum.r>0"}],"mark":{"type":"point","shape":"circle","filled":false,"color":"#b0b0b0","strokeWidth":1,"opacity":1},"encoding":{"x":{"datum":0,"type":"quantitative","scale":{"domain":[-32.98,30.58],"nice":false,"zero":false},"axis":null},"y":{"datum":0,"type":"quantitative","scale":{"domain":[-32.39,30.95],"nice":false,"zero":false},"axis":null},"size":{"field":"r","type":"quantitative","scale":{"type":"pow","exponent":2,"domain":[0,25.45],"range":[0,54289],"zero":true},"legend":null}}},
   {"data":{"name":"ang"},"transform":[{"calculate":"25.45*cos(datum.deg*PI/180)","as":"ex"},{"calculate":"25.45*sin(datum.deg*PI/180)","as":"ey"}],"mark":{"type":"rule","color":"#b0b0b0","strokeWidth":1},"encoding":{"x":{"field":"ex","type":"quantitative","axis":null},"y":{"field":"ey","type":"quantitative","axis":null},"x2":{"datum":0},"y2":{"datum":0}}},
   {"data":{"name":"a2n"},"transform":[{"calculate":"datum.r*cos(datum.t*PI/180)","as":"x"},{"calculate":"datum.r*sin(datum.t*PI/180)","as":"y"}],"mark":{"type":"point","filled":true,"size":64,"opacity":0.85},"encoding":{"x":{"field":"x","type":"quantitative","axis":null},"y":{"field":"y","type":"quantitative","axis":null},"color":{"datum":"nlp","type":"nominal","scale":{"domain":["nlp","informatics"],"range":["#1f77b4","#ff7f0e"]},"legend":{"orient":"none","legendX":165,"legendY":31,"title":null,"zindex":1}}}},
   {"data":{"name":"a2i"},"transform":[{"calculate":"datum.r*cos(datum.t*PI/180)","as":"x"},{"calculate":"datum.r*sin(datum.t*PI/180)","as":"y"}],"mark":{"type":"point","filled":true,"size":64,"opacity":0.85},"encoding":{"x":{"field":"x","type":"quantitative","axis":null},"y":{"field":"y","type":"quantitative","axis":null},"color":{"datum":"informatics","type":"nominal"}}},
   {"data":{"name":"one"},"mark":{"type":"point","shape":"circle","filled":false,"color":"black","strokeWidth":1,"opacity":1},"encoding":{"x":{"datum":0,"type":"quantitative","axis":null},"y":{"datum":0,"type":"quantitative","axis":null},"size":{"datum":25.45,"type":"quantitative","legend":null}}},
   {"data":{"name":"ang"},"mark":{"type":"text","radiusOffset":14,"fontSize":10,"color":"black"},"encoding":{"x":{"datum":0,"type":"quantitative","axis":null},"y":{"datum":0,"type":"quantitative","axis":null},"theta":{"field":"deg","type":"quantitative","scale":{"domain":[0,360],"range":[1.5708,-4.7124]}},"radius":{"datum":25.45,"type":"quantitative","scale":{"type":"linear","domain":[0,25.45],"range":[0,116.5],"zero":true}},"text":{"field":"lab"}}},
   {"data":{"name":"g20"},"mark":{"type":"text","align":"left","baseline":"bottom","fontSize":10,"color":"black"},"encoding":{"x":{"datum":0,"type":"quantitative","axis":null},"y":{"datum":0,"type":"quantitative","axis":null},"theta":{"datum":22.5,"type":"quantitative"},"radius":{"field":"r","type":"quantitative"},"text":{"field":"lab"}}}
  ]}
 ],
 "spacing":0,"bounds":"flush",
 "title":{"text":"(a) (nlp, _hypernym, informatics)","orient":"bottom","frame":"bounds","fontSize":19.5,"offset":-19,"dx":15},
 "resolve":{"scale":{"x":"independent","y":"independent","color":"independent","theta":"independent","radius":"independent","size":"independent"}}},
{"hconcat":[
 {"width":290,"height":290,"title":{"text":"RQE","offset":-31.5,"dx":12},
  "layer":[
   {"data":{"name":"g10"},"transform":[{"filter":"datum.r>0"}],"mark":{"type":"point","shape":"circle","filled":false,"color":"#b0b0b0","strokeWidth":1,"opacity":1},"encoding":{"x":{"datum":0,"type":"quantitative","scale":{"domain":[-15.0,12.88],"nice":false,"zero":false},"axis":null},"y":{"datum":0,"type":"quantitative","scale":{"domain":[-13.78,14.1],"nice":false,"zero":false},"axis":null},"size":{"field":"r","type":"quantitative","scale":{"type":"pow","exponent":2,"domain":[0,11.2],"range":[0,54289],"zero":true},"legend":null}}},
   {"data":{"name":"ang"},"transform":[{"calculate":"11.2*cos(datum.deg*PI/180)","as":"ex"},{"calculate":"11.2*sin(datum.deg*PI/180)","as":"ey"}],"mark":{"type":"rule","color":"#b0b0b0","strokeWidth":1},"encoding":{"x":{"field":"ex","type":"quantitative","axis":null},"y":{"field":"ey","type":"quantitative","axis":null},"x2":{"datum":0},"y2":{"datum":0}}},
   {"data":{"name":"b1a"},"transform":[{"calculate":"datum.r*cos(datum.t*PI/180)","as":"x"},{"calculate":"datum.r*sin(datum.t*PI/180)","as":"y"}],"mark":{"type":"point","filled":true,"size":64,"opacity":0.85},"encoding":{"x":{"field":"x","type":"quantitative","axis":null},"y":{"field":"y","type":"quantitative","axis":null},"color":{"datum":"ask","type":"nominal","scale":{"domain":["ask","inquire"],"range":["#1f77b4","#ff7f0e"]},"legend":{"orient":"none","legendX":192,"legendY":36,"title":null,"zindex":1}}}},
   {"data":{"name":"b1i"},"transform":[{"calculate":"datum.r*cos(datum.t*PI/180)","as":"x"},{"calculate":"datum.r*sin(datum.t*PI/180)","as":"y"}],"mark":{"type":"point","filled":true,"size":64,"opacity":0.85},"encoding":{"x":{"field":"x","type":"quantitative","axis":null},"y":{"field":"y","type":"quantitative","axis":null},"color":{"datum":"inquire","type":"nominal"}}},
   {"data":{"name":"one"},"mark":{"type":"point","shape":"circle","filled":false,"color":"black","strokeWidth":1,"opacity":1},"encoding":{"x":{"datum":0,"type":"quantitative","axis":null},"y":{"datum":0,"type":"quantitative","axis":null},"size":{"datum":11.2,"type":"quantitative","legend":null}}},
   {"data":{"name":"ang"},"mark":{"type":"text","radiusOffset":14,"fontSize":10,"color":"black"},"encoding":{"x":{"datum":0,"type":"quantitative","axis":null},"y":{"datum":0,"type":"quantitative","axis":null},"theta":{"field":"deg","type":"quantitative","scale":{"domain":[0,360],"range":[1.5708,-4.7124]}},"radius":{"datum":11.2,"type":"quantitative","scale":{"type":"linear","domain":[0,11.2],"range":[0,116.5],"zero":true}},"text":{"field":"lab"}}},
   {"data":{"name":"g10"},"mark":{"type":"text","align":"left","baseline":"bottom","fontSize":10,"color":"black"},"encoding":{"x":{"datum":0,"type":"quantitative","axis":null},"y":{"datum":0,"type":"quantitative","axis":null},"theta":{"datum":22.5,"type":"quantitative"},"radius":{"field":"r","type":"quantitative"},"text":{"field":"lab"}}}
  ]},
 {"width":291,"height":290,"title":{"text":"HRQE","offset":-31.5,"dx":7},
  "layer":[
   {"data":{"name":"g10"},"transform":[{"filter":"datum.r>0"}],"mark":{"type":"point","shape":"circle","filled":false,"color":"#b0b0b0","strokeWidth":1,"opacity":1},"encoding":{"x":{"datum":0,"type":"quantitative","scale":{"domain":[-14.87,13.78],"nice":false,"zero":false},"axis":null},"y":{"datum":0,"type":"quantitative","scale":{"domain":[-14.11,14.44],"nice":false,"zero":false},"axis":null},"size":{"field":"r","type":"quantitative","scale":{"type":"pow","exponent":2,"domain":[0,11.47],"range":[0,54289],"zero":true},"legend":null}}},
   {"data":{"name":"ang"},"transform":[{"calculate":"11.47*cos(datum.deg*PI/180)","as":"ex"},{"calculate":"11.47*sin(datum.deg*PI/180)","as":"ey"}],"mark":{"type":"rule","color":"#b0b0b0","strokeWidth":1},"encoding":{"x":{"field":"ex","type":"quantitative","axis":null},"y":{"field":"ey","type":"quantitative","axis":null},"x2":{"datum":0},"y2":{"datum":0}}},
   {"data":{"name":"b2a"},"transform":[{"calculate":"datum.r*cos(datum.t*PI/180)","as":"x"},{"calculate":"datum.r*sin(datum.t*PI/180)","as":"y"}],"mark":{"type":"point","filled":true,"size":64,"opacity":0.85},"encoding":{"x":{"field":"x","type":"quantitative","axis":null},"y":{"field":"y","type":"quantitative","axis":null},"color":{"datum":"ask","type":"nominal","scale":{"domain":["ask","inquire"],"range":["#1f77b4","#ff7f0e"]},"legend":{"orient":"none","legendX":187,"legendY":36,"title":null,"zindex":1}}}},
   {"data":{"name":"b2i"},"transform":[{"calculate":"datum.r*cos(datum.t*PI/180)","as":"x"},{"calculate":"datum.r*sin(datum.t*PI/180)","as":"y"}],"mark":{"type":"point","filled":true,"size":64,"opacity":0.85},"encoding":{"x":{"field":"x","type":"quantitative","axis":null},"y":{"field":"y","type":"quantitative","axis":null},"color":{"datum":"inquire","type":"nominal"}}},
   {"data":{"name":"one"},"mark":{"type":"point","shape":"circle","filled":false,"color":"black","strokeWidth":1,"opacity":1},"encoding":{"x":{"datum":0,"type":"quantitative","axis":null},"y":{"datum":0,"type":"quantitative","axis":null},"size":{"datum":11.47,"type":"quantitative","legend":null}}},
   {"data":{"name":"ang"},"mark":{"type":"text","radiusOffset":14,"fontSize":10,"color":"black"},"encoding":{"x":{"datum":0,"type":"quantitative","axis":null},"y":{"datum":0,"type":"quantitative","axis":null},"theta":{"field":"deg","type":"quantitative","scale":{"domain":[0,360],"range":[1.5708,-4.7124]}},"radius":{"datum":11.47,"type":"quantitative","scale":{"type":"linear","domain":[0,11.47],"range":[0,116.5],"zero":true}},"text":{"field":"lab"}}},
   {"data":{"name":"g10"},"mark":{"type":"text","align":"left","baseline":"bottom","fontSize":10,"color":"black"},"encoding":{"x":{"datum":0,"type":"quantitative","axis":null},"y":{"datum":0,"type":"quantitative","axis":null},"theta":{"datum":22.5,"type":"quantitative"},"radius":{"field":"r","type":"quantitative"},"text":{"field":"lab"}}}
  ]}
 ],
 "spacing":0,"bounds":"flush",
 "title":{"text":"(b) (ask, _verb_group, inquire)","orient":"bottom","frame":"bounds","fontSize":19.5,"offset":-19,"dx":13},
 "resolve":{"scale":{"x":"independent","y":"independent","color":"independent","theta":"independent","radius":"independent","size":"independent"}}},
{"hconcat":[
 {"width":290,"height":285,"title":{"text":"RQE","offset":-26.5,"dx":12},
  "layer":[
   {"data":{"name":"g20"},"transform":[{"filter":"datum.r>0"}],"mark":{"type":"point","shape":"circle","filled":false,"color":"#b0b0b0","strokeWidth":1,"opacity":1},"encoding":{"x":{"datum":0,"type":"quantitative","scale":{"domain":[-33.61,28.87],"nice":false,"zero":false},"axis":null},"y":{"datum":0,"type":"quantitative","scale":{"domain":[-30.88,30.53],"nice":false,"zero":false},"axis":null},"size":{"field":"r","type":"quantitative","scale":{"type":"pow","exponent":2,"domain":[0,25.1],"range":[0,54289],"zero":true},"legend":null}}},
   {"data":{"name":"ang"},"transform":[{"calculate":"25.1*cos(datum.deg*PI/180)","as":"ex"},{"calculate":"25.1*sin(datum.deg*PI/180)","as":"ey"}],"mark":{"type":"rule","color":"#b0b0b0","strokeWidth":1},"encoding":{"x":{"field":"ex","type":"quantitative","axis":null},"y":{"field":"ey","type":"quantitative","axis":null},"x2":{"datum":0},"y2":{"datum":0}}},
   {"data":{"name":"c1g"},"transform":[{"calculate":"datum.r*cos(datum.t*PI/180)","as":"x"},{"calculate":"datum.r*sin(datum.t*PI/180)","as":"y"}],"mark":{"type":"point","filled":true,"size":64,"opacity":0.85},"encoding":{"x":{"field":"x","type":"quantitative","axis":null},"y":{"field":"y","type":"quantitative","axis":null},"color":{"datum":"genus_felis","type":"nominal","scale":{"domain":["genus_felis","wildcat"],"range":["#1f77b4","#ff7f0e"]},"legend":{"orient":"none","legendX":169,"legendY":31,"title":null,"zindex":1}}}},
   {"data":{"name":"c1w"},"transform":[{"calculate":"datum.r*cos(datum.t*PI/180)","as":"x"},{"calculate":"datum.r*sin(datum.t*PI/180)","as":"y"}],"mark":{"type":"point","filled":true,"size":64,"opacity":0.85},"encoding":{"x":{"field":"x","type":"quantitative","axis":null},"y":{"field":"y","type":"quantitative","axis":null},"color":{"datum":"wildcat","type":"nominal"}}},
   {"data":{"name":"one"},"mark":{"type":"point","shape":"circle","filled":false,"color":"black","strokeWidth":1,"opacity":1},"encoding":{"x":{"datum":0,"type":"quantitative","axis":null},"y":{"datum":0,"type":"quantitative","axis":null},"size":{"datum":25.1,"type":"quantitative","legend":null}}},
   {"data":{"name":"ang"},"mark":{"type":"text","radiusOffset":14,"fontSize":10,"color":"black"},"encoding":{"x":{"datum":0,"type":"quantitative","axis":null},"y":{"datum":0,"type":"quantitative","axis":null},"theta":{"field":"deg","type":"quantitative","scale":{"domain":[0,360],"range":[1.5708,-4.7124]}},"radius":{"datum":25.1,"type":"quantitative","scale":{"type":"linear","domain":[0,25.1],"range":[0,116.5],"zero":true}},"text":{"field":"lab"}}},
   {"data":{"name":"g20"},"mark":{"type":"text","align":"left","baseline":"bottom","fontSize":10,"color":"black"},"encoding":{"x":{"datum":0,"type":"quantitative","axis":null},"y":{"datum":0,"type":"quantitative","axis":null},"theta":{"datum":22.5,"type":"quantitative"},"radius":{"field":"r","type":"quantitative"},"text":{"field":"lab"}}}
  ]},
 {"width":291,"height":285,"title":{"text":"HRQE","offset":-26.5,"dx":7},
  "layer":[
   {"data":{"name":"g20"},"transform":[{"filter":"datum.r>0"}],"mark":{"type":"point","shape":"circle","filled":false,"color":"#b0b0b0","strokeWidth":1,"opacity":1},"encoding":{"x":{"datum":0,"type":"quantitative","scale":{"domain":[-32.92,30.52],"nice":false,"zero":false},"axis":null},"y":{"datum":0,"type":"quantitative","scale":{"domain":[-31.24,30.89],"nice":false,"zero":false},"axis":null},"size":{"field":"r","type":"quantitative","scale":{"type":"pow","exponent":2,"domain":[0,25.4],"range":[0,54289],"zero":true},"legend":null}}},
   {"data":{"name":"ang"},"transform":[{"calculate":"25.4*cos(datum.deg*PI/180)","as":"ex"},{"calculate":"25.4*sin(datum.deg*PI/180)","as":"ey"}],"mark":{"type":"rule","color":"#b0b0b0","strokeWidth":1},"encoding":{"x":{"field":"ex","type":"quantitative","axis":null},"y":{"field":"ey","type":"quantitative","axis":null},"x2":{"datum":0},"y2":{"datum":0}}},
   {"data":{"name":"c2g"},"transform":[{"calculate":"datum.r*cos(datum.t*PI/180)","as":"x"},{"calculate":"datum.r*sin(datum.t*PI/180)","as":"y"}],"mark":{"type":"point","filled":true,"size":64,"opacity":0.85},"encoding":{"x":{"field":"x","type":"quantitative","axis":null},"y":{"field":"y","type":"quantitative","axis":null},"color":{"datum":"genus_felis","type":"nominal","scale":{"domain":["genus_felis","wildcat"],"range":["#1f77b4","#ff7f0e"]},"legend":{"orient":"none","legendX":166,"legendY":31,"title":null,"zindex":1}}}},
   {"data":{"name":"c2w"},"transform":[{"calculate":"datum.r*cos(datum.t*PI/180)","as":"x"},{"calculate":"datum.r*sin(datum.t*PI/180)","as":"y"}],"mark":{"type":"point","filled":true,"size":64,"opacity":0.85},"encoding":{"x":{"field":"x","type":"quantitative","axis":null},"y":{"field":"y","type":"quantitative","axis":null},"color":{"datum":"wildcat","type":"nominal"}}},
   {"data":{"name":"one"},"mark":{"type":"point","shape":"circle","filled":false,"color":"black","strokeWidth":1,"opacity":1},"encoding":{"x":{"datum":0,"type":"quantitative","axis":null},"y":{"datum":0,"type":"quantitative","axis":null},"size":{"datum":25.4,"type":"quantitative","legend":null}}},
   {"data":{"name":"ang"},"mark":{"type":"text","radiusOffset":14,"fontSize":10,"color":"black"},"encoding":{"x":{"datum":0,"type":"quantitative","axis":null},"y":{"datum":0,"type":"quantitative","axis":null},"theta":{"field":"deg","type":"quantitative","scale":{"domain":[0,360],"range":[1.5708,-4.7124]}},"radius":{"datum":25.4,"type":"quantitative","scale":{"type":"linear","domain":[0,25.4],"range":[0,116.5],"zero":true}},"text":{"field":"lab"}}},
   {"data":{"name":"g20"},"mark":{"type":"text","align":"left","baseline":"bottom","fontSize":10,"color":"black"},"encoding":{"x":{"datum":0,"type":"quantitative","axis":null},"y":{"datum":0,"type":"quantitative","axis":null},"theta":{"datum":22.5,"type":"quantitative"},"radius":{"field":"r","type":"quantitative"},"text":{"field":"lab"}}}
  ]}
 ],
 "spacing":0,"bounds":"flush",
 "title":{"text":"(c) (genus_felis, _member_meronym, wildcat)","orient":"bottom","frame":"bounds","fontSize":19.5,"offset":-25,"dx":12},
 "resolve":{"scale":{"x":"independent","y":"independent","color":"independent","theta":"independent","radius":"independent","size":"independent"}}}
]
}
